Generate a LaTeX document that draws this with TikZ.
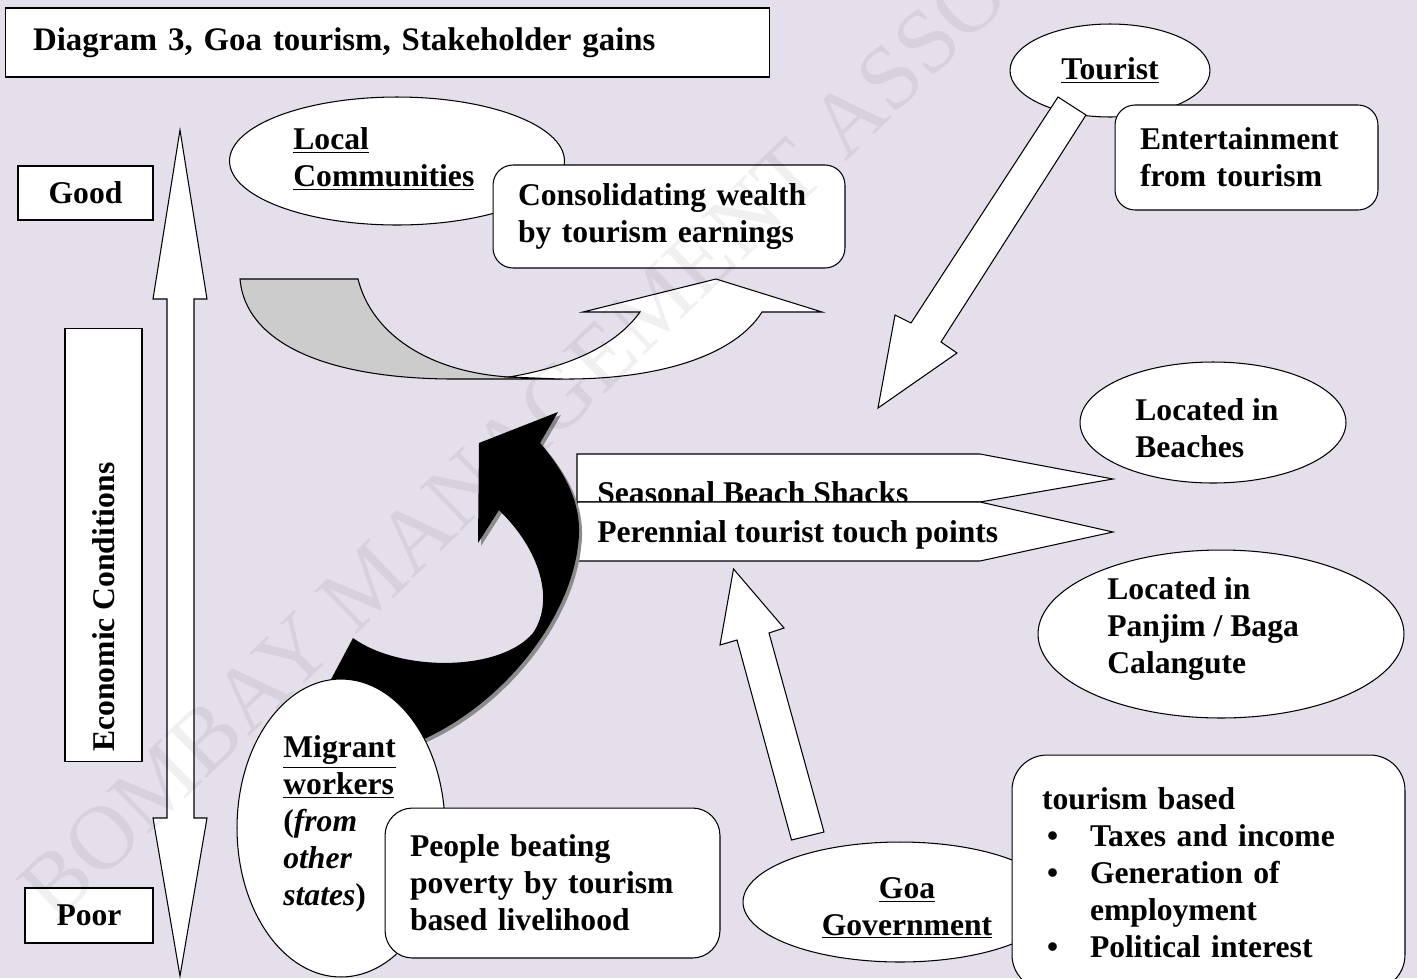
\documentclass[tikz,border=0pt]{standalone}
\usepackage{fontspec}
\setmainfont{Liberation Serif}
\usetikzlibrary{shapes.geometric}
\definecolor{lavender}{RGB}{229,223,236}
\newcommand{\undl}[1]{\underline{#1}}
\newcommand{\migrantpath}{(540,443) .. controls (570,478) and (583,510) .. (578,545) .. controls (570,620) and (500,710) .. (410,745) -- (380,770) -- (320,700) -- (353,638) .. controls (400,672) and (500,672) .. (533,633) .. controls (555,600) and (540,550) .. (499,510) -- (478,543) -- (479,443) -- (558,412) -- cycle}

\begin{document}
\begin{tikzpicture}[x=0.02cm, y=-0.02cm,
    every node/.style={font=\fontsize{18}{21}\selectfont\bfseries},
    sqbox/.style={draw, fill=white, line width=0.6pt, inner ysep=0pt},
    rbox/.style={sqbox, rounded corners=0.4cm, align=left, inner xsep=0.5cm},
    blob/.style={draw, fill=white, ellipse, line width=0.6pt, inner sep=0pt},
    txt/.style={inner sep=0pt, align=left},
    blockarrow/.style={draw, fill=white, line width=0.6pt, line join=miter}]

    % === Page ===
    \useasboundingbox (0,0) rectangle (1417,978);
    \fill[lavender] (0,0) rectangle (1417,978);

    % === Title and scale on the left ===
    \node[sqbox, minimum width=15.3cm, minimum height=1.38cm, text width=14.18cm, inner xsep=0.56cm, align=left, font=\fontsize{18.7}{22}\selectfont\bfseries] (title) at (387.5,42.5) {Diagram 3, Goa tourism, Stakeholder gains};
    \node[sqbox, minimum width=2.7cm, minimum height=1.08cm] (good) at (85.5,193) {Good};
    \node[sqbox, minimum width=2.56cm, minimum height=1.1cm] (poor) at (89,915.5) {Poor};
    \node[sqbox, minimum width=1.54cm, minimum height=8.68cm] (econ) at (103.5,545) {};
    \node[txt, rotate=90, anchor=west] (econtxt) at (104,752) {Economic Conditions};
    \draw[blockarrow] (180,130) -- (207,299) -- (194,299) -- (194,818) -- (207,818) -- (180,976) -- (153,818) -- (167,818) -- (167,299) -- (153,299) -- cycle;

    % === Local communities ===
    \node[blob, minimum width=6.7cm, minimum height=2.56cm] (local) at (397,161) {};
    \node[txt, anchor=west] (localtxt) at (293,159) {\undl{Local}\\\undl{Communities}};
    \node[rbox, minimum width=7.04cm, minimum height=2.06cm, text width=6.04cm] (wealth) at (669,216.5) {Consolidating wealth\\by tourism earnings};
    \filldraw[fill=black!20, line width=0.6pt] (240,279) -- (358,279) .. controls (372,335) and (430,372) .. (509,377) -- (560,379) -- (450,379) .. controls (320,378) and (245,340) .. cycle;
    \draw[blockarrow] (509,377) .. controls (580,365) and (620,340) .. (640,312) -- (583,312) -- (716,279) -- (822,312) -- (762,312) .. controls (735,355) and (660,380) .. (560,379) -- cycle;

    % === Tourist ===
    \node[blob, minimum width=4cm, minimum height=1.86cm] (tourist) at (1110,70.5) {\undl{Tourist}};
    \draw[blockarrow] (1058,97) -- (1086,115) -- (941,342) -- (957,353) -- (878,408) -- (895,315) -- (911,323) -- cycle;
    \node[rbox, minimum width=5.26cm, minimum height=2.1cm, text width=4.26cm] (enjoy) at (1246.5,157.5) {Entertainment\\from tourism};

    % === Touch points ===
    \node[blob, minimum width=5.32cm, minimum height=2.42cm] (beach) at (1213,422.5) {};
    \node[txt, anchor=west] (beachtxt) at (1135,428) {Located in\\Beaches};
    \node[blob, minimum width=7.32cm, minimum height=3.36cm] (panjim) at (1221,634) {};
    \node[txt, anchor=west] (panjimtxt) at (1107,629) {Located in\\Panjim / Baga\\Calangute};
    \draw[blockarrow] (577,454) -- (980,454) -- (1113,479) -- (980,502) -- (577,502) -- cycle;
    \node[txt, anchor=base west] (shacks) at (597,503) {Seasonal Beach Shacks};
    \draw[blockarrow] (577,502) -- (980,502) -- (1113,532) -- (980,561) -- (577,561) -- cycle;
    \node[txt, anchor=base west] (perennial) at (597,542) {Perennial tourist touch points};

    % === Migrant workers ===
    \fill[black!45, shift={(3,3)}] \migrantpath;
    \fill[black] \migrantpath;
    \node[blob, minimum width=4.16cm, minimum height=5.96cm] (migrant) at (341,828) {};
    \node[txt, anchor=west] (migranttxt) at (283,824) {\undl{Migrant}\\\undl{workers}\\(\textit{from}\\\textit{other}\\\textit{states})};
    \node[rbox, rounded corners=0.55cm, minimum width=6.7cm, minimum height=3cm, text width=5.7cm] (people) at (552.5,883) {People beating\\poverty by tourism\\based livelihood};

    % === Goa government ===
    \draw[blockarrow] (733.5,569) -- (784,628) -- (769,633) -- (824,832) -- (791.5,840) -- (737,640) -- (720,645) -- cycle;
    \node[blob, minimum width=6.28cm, minimum height=2.4cm] (goa) at (900,902) {};
    \node[txt, align=center] (goatxt) at (907,908) {\undl{Goa}\\\undl{Government}};
    \node[rbox, rounded corners=0.7cm, minimum width=7.86cm, minimum height=4.7cm, text width=6.66cm, inner xsep=0.6cm] (taxes) at (1208.5,872.5) {tourism based\\
        \makebox[0.96cm][l]{\hspace{0.1cm}\textbullet}Taxes and income\\
        \makebox[0.96cm][l]{\hspace{0.1cm}\textbullet}Generation of\\
        \hspace{0.96cm}employment\\
        \makebox[0.96cm][l]{\hspace{0.1cm}\textbullet}Political interest};

    % === Watermark ===
    \node[rotate=44, anchor=base west, inner sep=0pt, text=black, opacity=0.06, font=\fontsize{52}{52}\selectfont] (wmark) at (55,925) {BOMBAY MANAGEMENT ASSOCIATION};
\end{tikzpicture}
\end{document}
